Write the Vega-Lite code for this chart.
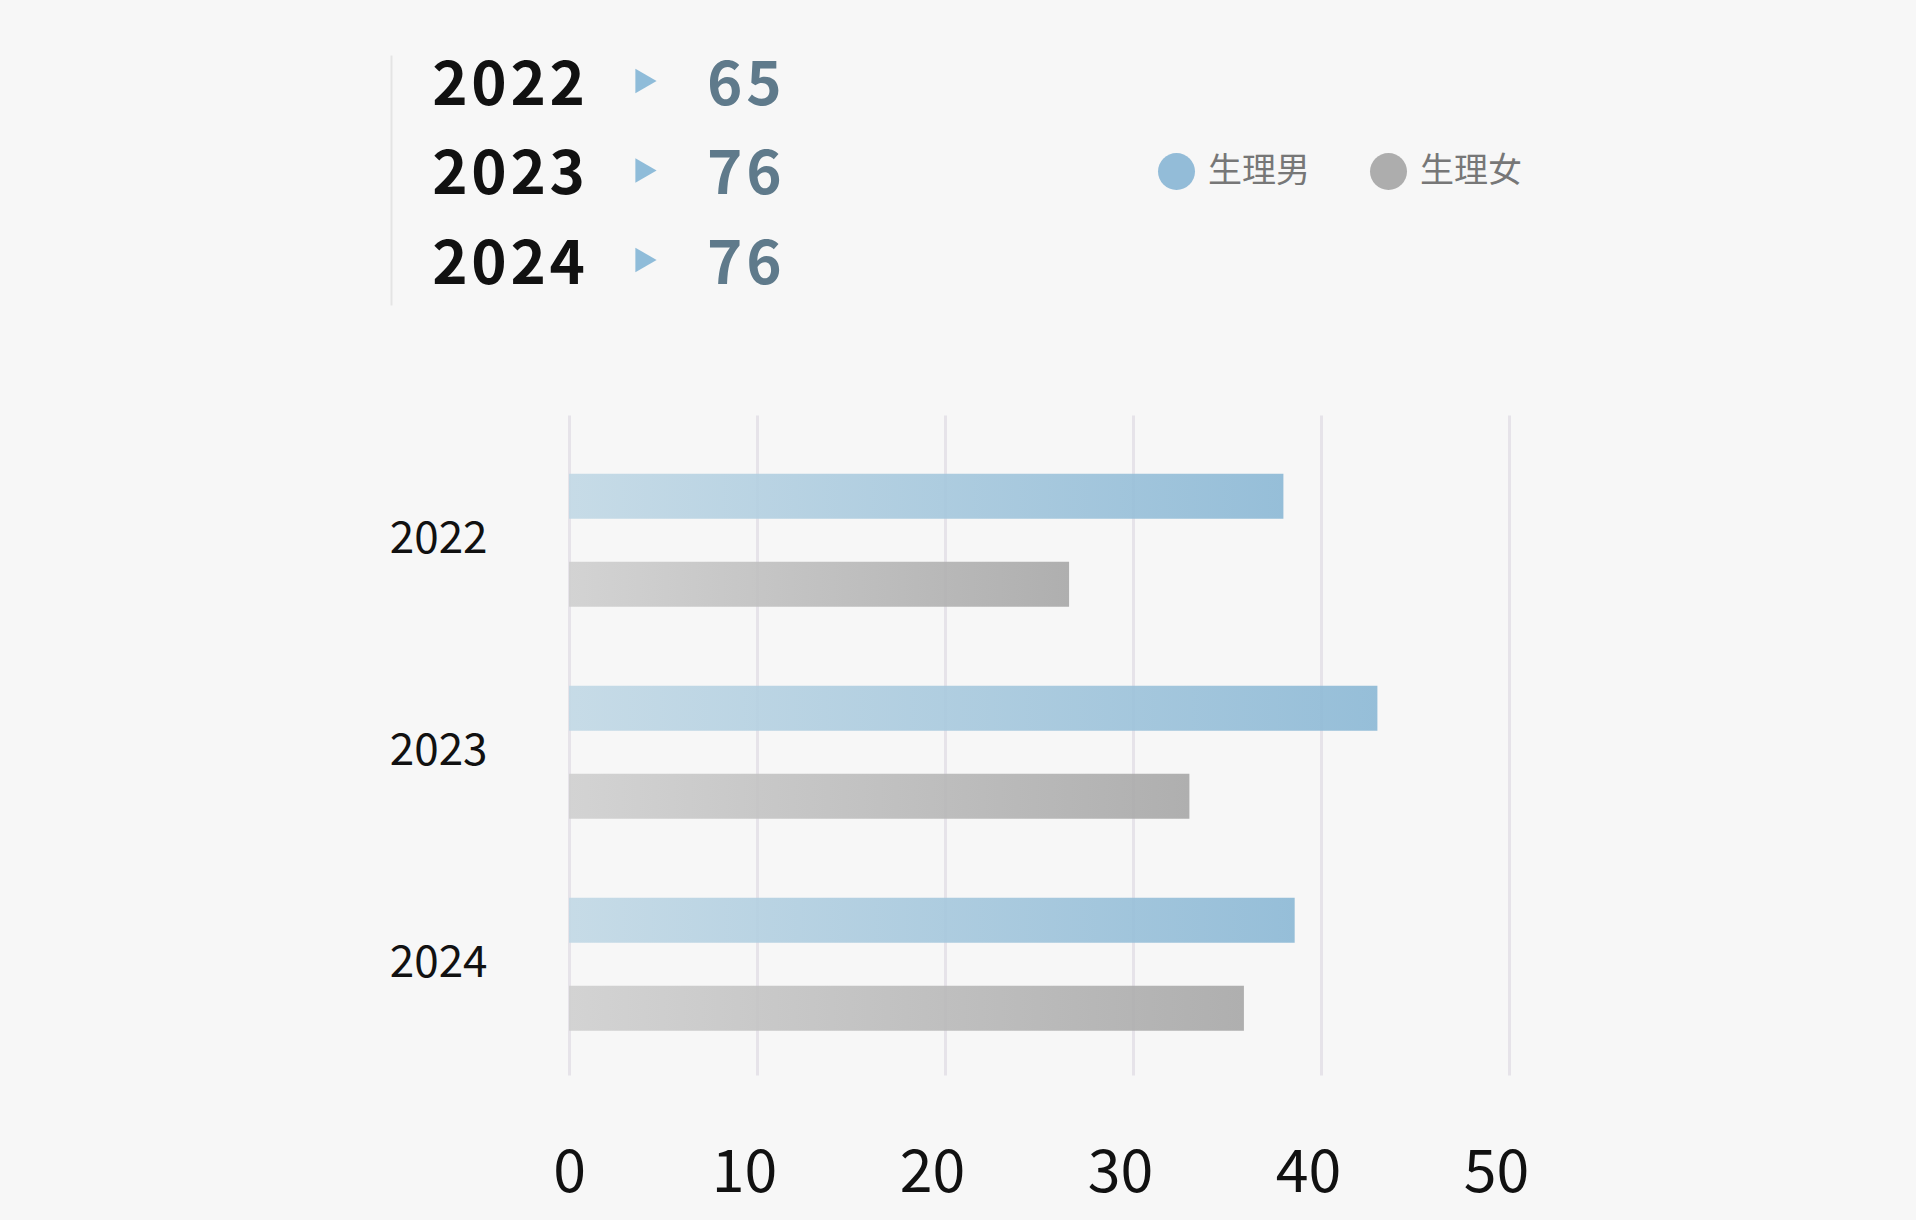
{
  "$schema": "https://vega.github.io/schema/vega-lite/v6.json",
  "background": "#f7f7f7",
  "padding": {"left": 389, "top": 55, "right": 420, "bottom": 30},
  "spacing": 110,
  "columns": 1,
  "align": "none",
  "datasets": {
    "bars": [
      {"year": "2022", "sex": "生理男", "count": 38},
      {"year": "2022", "sex": "生理女", "count": 26.6},
      {"year": "2023", "sex": "生理男", "count": 43},
      {"year": "2023", "sex": "生理女", "count": 33},
      {"year": "2024", "sex": "生理男", "count": 38.6},
      {"year": "2024", "sex": "生理女", "count": 35.9}
    ],
    "totals": [
      {"year": "2022", "total": 65},
      {"year": "2023", "total": 76},
      {"year": "2024", "total": 76}
    ]
  },
  "concat": [
    {
      "width": 154,
      "height": 250,
      "data": {"name": "totals"},
      "encoding": {
        "y": {
          "field": "year", "type": "ordinal",
          "scale": {"type": "point", "padding": 0.397, "align": 0.366},
          "axis": {"domain": true, "domainColor": "#e4e4e4", "domainWidth": 2, "offset": 178, "labels": false, "ticks": false, "grid": false, "title": null}
        }
      },
      "layer": [
        {
          "mark": {"type": "text", "align": "right", "baseline": "middle", "fontSize": 60, "fontWeight": "bold", "font": "Noto Sans CJK TC", "color": "#111111", "dy": 6, "text": {"expr": "join(split(datum.year, ''), '\u200a')"}},
          "encoding": {
            "x": {"datum": "年", "type": "nominal", "scale": {"type": "point", "domain": ["年", "▶", "人"], "padding": 0.262}, "axis": null}
          }
        },
        {
          "mark": {"type": "point", "shape": "triangle-right", "filled": true, "size": 600, "color": "#8fbcd9", "opacity": 1},
          "encoding": {
            "x": {"datum": "▶", "type": "nominal", "axis": null}
          }
        },
        {
          "mark": {"type": "text", "align": "left", "baseline": "middle", "fontSize": 60, "fontWeight": "bold", "font": "Noto Sans CJK TC", "color": "#5f7a8b", "dy": 6, "text": {"expr": "join(split(toString(datum.total), ''), '\u200a')"}},
          "encoding": {
            "x": {"datum": "人", "type": "nominal", "axis": null}
          }
        },
        {
          "data": {"name": "bars"},
          "mark": {"type": "point", "filled": true, "opacity": 0},
          "encoding": {
            "x": {"datum": "▶", "type": "nominal", "axis": null},
            "color": {
              "field": "sex", "type": "nominal",
              "scale": {"domain": ["生理男", "生理女"], "range": ["#93bcd8", "#adadad"]},
              "legend": {
                "orient": "none", "legendX": 589, "legendY": 98, "direction": "horizontal",
                "title": null, "symbolType": "circle", "symbolSize": 1369, "symbolOpacity": 1,
                "symbolStrokeWidth": 0, "labelFontSize": 34, "labelColor": "#777777",
                "labelFont": "Noto Sans CJK TC", "labelOffset": 13, "columnPadding": 60
              }
            }
          }
        }
      ]
    },
    {
      "width": 940,
      "height": 660,
      "data": {"name": "bars"},
      "encoding": {
        "y": {
          "field": "year", "type": "nominal",
          "scale": {"paddingInner": 0.373, "paddingOuter": 0.243, "align": 0.57},
          "axis": {"title": null, "domain": false, "ticks": false, "grid": false, "labelFontSize": 44, "labelFont": "Noto Sans CJK TC", "labelColor": "#111111", "labelPadding": 82}
        },
        "yOffset": {
          "field": "sex", "type": "nominal",
          "scale": {"domain": ["生理男", "生理女"], "paddingInner": 0.49, "paddingOuter": 0}
        },
        "x": {
          "field": "count", "type": "quantitative",
          "scale": {"domain": [0, 50]},
          "axis": {
            "title": null, "values": [0, 10, 20, 30, 40, 50], "grid": true, "gridColor": "#e6e3e9", "gridWidth": 3,
            "domain": false, "ticks": false, "labelFontSize": 59, "labelFont": "Noto Sans CJK TC", "labelColor": "#111111",
            "labelPadding": 69, "labelFlush": false,
            "labelOffset": {"condition": {"test": "datum.value == 0", "value": 0}, "value": -13}
          }
        }
      },
      "layer": [
        {
          "transform": [{"filter": "datum.sex == '生理男'"}],
          "mark": {"type": "bar", "opacity": 0.9, "color": {"gradient": "linear", "x1": 0, "x2": 1, "y1": 0, "y2": 0, "stops": [{"offset": 0, "color": "#c1d8e5"}, {"offset": 1, "color": "#8bb8d5"}]}}
        },
        {
          "transform": [{"filter": "datum.sex == '生理女'"}],
          "mark": {"type": "bar", "opacity": 0.9, "color": {"gradient": "linear", "x1": 0, "x2": 1, "y1": 0, "y2": 0, "stops": [{"offset": 0, "color": "#cfcfcf"}, {"offset": 1, "color": "#a7a7a7"}]}}
        }
      ]
    }
  ],
  "config": {
    "view": {"stroke": null},
    "font": "Noto Sans CJK TC"
  }
}
